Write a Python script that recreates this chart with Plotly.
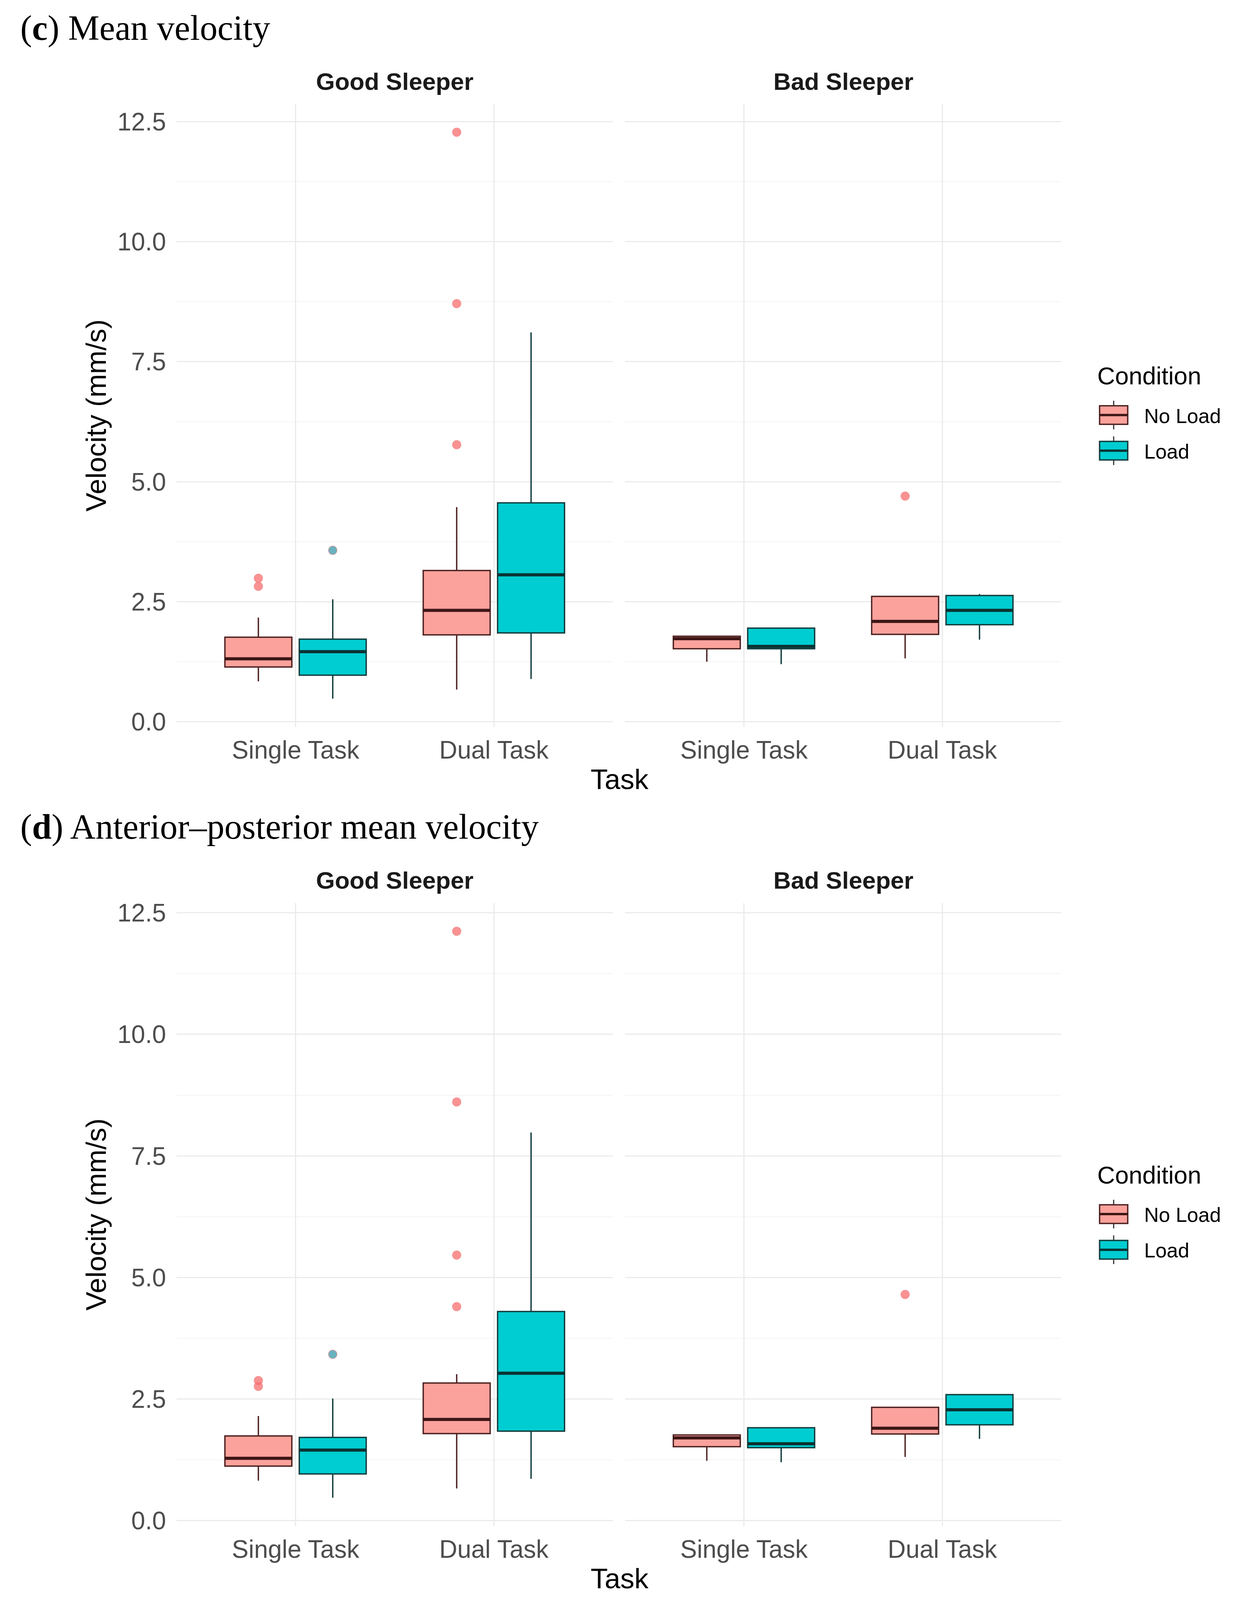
import plotly.graph_objects as go

W, H = 3177, 4141

tasks = ["Single Task", "Dual Task"]
sleepers = ["Good Sleeper", "Bad Sleeper"]
conditions = ["No Load", "Load"]

# box stats per task: [lower whisker, Q1, median, Q3, upper whisker]
# (c) mean velocity
mv_good_noload = [[0.84, 1.14, 1.31, 1.76, 2.17], [0.67, 1.81, 2.32, 3.15, 4.47]]
mv_good_load = [[0.48, 0.97, 1.46, 1.72, 2.55], [0.89, 1.85, 3.06, 4.56, 8.11]]
mv_bad_noload = [[1.25, 1.52, 1.73, 1.78, 1.79], [1.32, 1.82, 2.09, 2.61, 2.61]]
mv_bad_load = [[1.20, 1.52, 1.57, 1.95, 1.96], [1.71, 2.02, 2.32, 2.63, 2.66]]
mv_good_noload_out = [[2.99, 2.82], [12.28, 8.71, 5.77]]
mv_good_load_out = [[3.57], []]
mv_bad_noload_out = [[], [4.70]]
mv_bad_load_out = [[], []]

# (d) anterior-posterior mean velocity
ap_good_noload = [[0.82, 1.12, 1.28, 1.74, 2.15], [0.66, 1.79, 2.08, 2.83, 3.01]]
ap_good_load = [[0.47, 0.96, 1.45, 1.71, 2.51], [0.86, 1.84, 3.03, 4.30, 7.98]]
ap_bad_noload = [[1.23, 1.52, 1.70, 1.76, 1.77], [1.31, 1.78, 1.90, 2.33, 2.33]]
ap_bad_load = [[1.20, 1.50, 1.58, 1.91, 1.92], [1.68, 1.97, 2.28, 2.59, 2.60]]
ap_good_noload_out = [[2.88, 2.76], [12.12, 8.61, 5.46, 4.40]]
ap_good_load_out = [[3.42], []]
ap_bad_noload_out = [[], [4.65]]
ap_bad_load_out = [[], []]

panels = [
    {
        "title": "(<b>c</b>) Mean velocity",
        "stats": [[mv_good_noload, mv_good_load], [mv_bad_noload, mv_bad_load]],
        "out": [[mv_good_noload_out, mv_good_load_out], [mv_bad_noload_out, mv_bad_load_out]],
    },
    {
        "title": "(<b>d</b>) Anterior\u2013posterior mean velocity",
        "stats": [[ap_good_noload, ap_good_load], [ap_bad_noload, ap_bad_load]],
        "out": [[ap_good_noload_out, ap_good_load_out], [ap_bad_noload_out, ap_bad_load_out]],
    },
]

fills = ["#fba29c", "#00cdd1"]
edges = ["#4f2222", "#123d3d"]
medcols = ["#3d1616", "#0b3232"]
outcols = ["rgba(248,110,110,0.75)", "rgba(80,165,180,0.85)"]
dodge = [-0.1875, 0.1875]
boxw = 0.3375

SANS = "Liberation Sans, Arial, sans-serif"
SERIF = "Liberation Serif, Times New Roman, serif"

# layout in pixels
xdom_px = [(452, 1569), (1600, 2717)]
ydom_px = [(258, 1866), (2320, 3928)]
shift = 2062


def px(x):
    return x / W


def py(y):
    return 1 - y / H


def axname(k):
    return "" if k == 1 else str(k)


fig = go.Figure()
annotations = []
shapes = []

for p, panel in enumerate(panels):
    allvals = []
    for s in range(2):
        for c in range(2):
            for b in panel["stats"][s][c]:
                allvals += b
            for o in panel["out"][s][c]:
                allvals += o
    lo, hi = min(allvals), max(allvals)
    pad = 0.05 * (hi - lo)
    yrange = [lo - pad, hi + pad]

    for s in range(2):
        k = p * 2 + s + 1
        xa, ya = "x" + axname(k), "y" + axname(k)
        for c in range(2):
            st = panel["stats"][s][c]
            pos = [i + 1 + dodge[c] for i in range(len(tasks))]
            fig.add_trace(go.Box(
                x=pos,
                lowerfence=[b[0] for b in st], q1=[b[1] for b in st],
                median=[b[2] for b in st], q3=[b[3] for b in st],
                upperfence=[b[4] for b in st],
                width=boxw, fillcolor=fills[c],
                line=dict(color=edges[c], width=3.5),
                whiskerwidth=0, boxpoints=False, hoverinfo="skip",
                showlegend=False, xaxis=xa, yaxis=ya,
            ))
            med = [b[2] for b in st]
            fig.add_trace(go.Box(
                x=pos, lowerfence=med, q1=med, median=med, q3=med, upperfence=med,
                width=boxw, fillcolor="rgba(0,0,0,0)",
                line=dict(color=medcols[c], width=8),
                whiskerwidth=0, boxpoints=False, hoverinfo="skip",
                showlegend=False, xaxis=xa, yaxis=ya,
            ))
            ox, oy = [], []
            for i, o in enumerate(panel["out"][s][c]):
                ox += [pos[i]] * len(o)
                oy += o
            if oy:
                fig.add_trace(go.Scatter(
                    x=ox, y=oy, mode="markers",
                    marker=dict(size=22, color=outcols[c],
                                line=dict(width=2, color="rgba(240,130,130,0.5)")),
                    hoverinfo="skip", showlegend=False, xaxis=xa, yaxis=ya,
                ))

        x0, x1 = xdom_px[s]
        y0, y1 = ydom_px[p]
        fig.layout["xaxis" + axname(k)] = dict(
            domain=[px(x0), px(x1)], anchor=ya, range=[0.4, 2.6],
            tickvals=[1, 2], ticktext=tasks, showgrid=True,
            gridcolor="#ebebeb", gridwidth=3, zeroline=False, showline=False,
            ticks="", ticklabelstandoff=16,
            tickfont=dict(family=SANS, size=64, color="#4d4d4d"),
        )
        fig.layout["yaxis" + axname(k)] = dict(
            domain=[py(y1), py(y0)], anchor=xa, range=yrange,
            tick0=0, dtick=2.5, tickformat=".1f", showgrid=True,
            gridcolor="#ebebeb", gridwidth=3, zeroline=False, showline=False,
            ticks="", showticklabels=(s == 0), ticklabelstandoff=26,
            tickfont=dict(family=SANS, size=64, color="#4d4d4d"),
            minor=dict(dtick=1.25, tick0=0, showgrid=True,
                       gridcolor="#f4f4f4", gridwidth=2),
        )
        annotations.append(dict(
            text="<b>%s</b>" % sleepers[s], x=px((x0 + x1) / 2), y=py(200 + p * shift),
            xref="paper", yref="paper", showarrow=False, xanchor="center",
            yanchor="middle", font=dict(family=SANS, size=62, color="#1a1a1a"),
        ))

    dy = p * shift
    annotations += [
        dict(text=panel["title"], x=px(50), y=py(62 + dy), xanchor="left",
             yanchor="middle", font=dict(family=SERIF, size=90, color="#000000")),
        dict(text="Task", x=px(1586), y=py(2001 + dy), xanchor="center",
             yanchor="middle", font=dict(family=SANS, size=72, color="#000000")),
        dict(text="Velocity (mm/s)", x=px(246), y=py(1062 + dy), textangle=-90,
             xanchor="center", yanchor="middle",
             font=dict(family=SANS, size=72, color="#000000")),
        dict(text="Condition", x=px(2807), y=py(960 + dy), xanchor="left",
             yanchor="middle", font=dict(family=SANS, size=63, color="#000000")),
    ]
    # legend keys
    for c, cname in enumerate(conditions):
        cy = 1061 + c * 92 + dy
        shapes.append(dict(type="line", xref="paper", yref="paper",
                           x0=px(2851), x1=px(2851), y0=py(cy - 37), y1=py(cy + 37),
                           line=dict(color="#333333", width=3)))
        shapes.append(dict(type="rect", xref="paper", yref="paper",
                           x0=px(2815), x1=px(2887), y0=py(cy - 24), y1=py(cy + 24),
                           fillcolor=fills[c], line=dict(color=edges[c], width=3.5)))
        shapes.append(dict(type="line", xref="paper", yref="paper",
                           x0=px(2815), x1=px(2887), y0=py(cy), y1=py(cy),
                           line=dict(color=medcols[c], width=6)))
        annotations.append(dict(
            text=cname, x=px(2927), y=py(cy + 2), xanchor="left", yanchor="middle",
            font=dict(family=SANS, size=52, color="#000000")))

for a in annotations:
    a.setdefault("xref", "paper")
    a.setdefault("yref", "paper")
    a.setdefault("showarrow", False)

fig.update_layout(
    width=W, height=H,
    margin=dict(l=0, r=0, t=0, b=0),
    paper_bgcolor="white", plot_bgcolor="white",
    showlegend=False,
    annotations=annotations, shapes=shapes,
)

fig.write_html("out.html", config={"displayModeBar": False},
               post_script="document.body.style.margin = '0';")
